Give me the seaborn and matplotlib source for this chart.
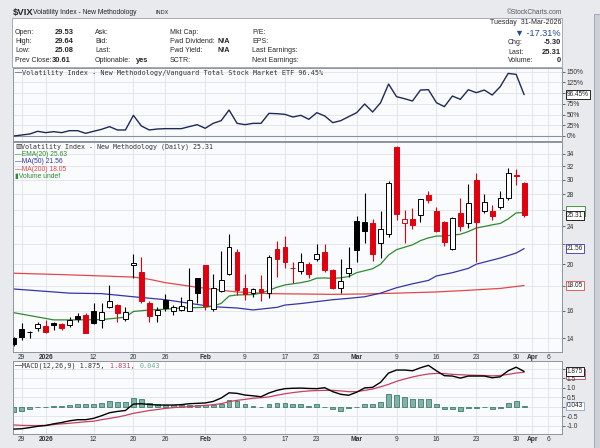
import matplotlib
matplotlib.use("Agg")
import matplotlib.pyplot as plt
import matplotlib.transforms as mtransforms
from matplotlib.patches import Rectangle
from matplotlib.ticker import FixedLocator, NullLocator
import seaborn as sns

# --- Dados (índice = pregão, 0 = 26-Dez-2025) ---
dias = list(range(65))

abertura = [14.0, 14.62, 14.45, 14.69, 14.83, 15.1, 14.98, 14.9, 15.6, 15.65,
            16.0, 15.28, 16.3, 16.45, 15.4, 19.9, 19.26, 16.6, 15.65, 16.83,
            16.0, 16.05, 16.0, 18.7, 19.9, 16.1, 17.6, 19.1, 21.25, 17.83,
            17.43, 17.75, 17.4, 21.48, 21.74, 19.65, 19.33, 20.0, 20.48, 21.25,
            19.42, 17.86, 19.15, 24.63, 24.54, 24.33, 22.1, 23.1, 35.1, 24.33,
            24.8, 25.3, 27.9, 25.87, 24.54, 21.5, 25.57, 24.4, 30.0, 25.8,
            25.8, 26.37, 27.5, 30.7, 29.53]
maxima = [14.1, 15.05, 14.52, 15.17, 15.28, 15.17, 15.1, 15.48, 15.8, 15.8,
          16.62, 16.56, 18.08, 16.55, 16.25, 20.96, 20.75, 16.72, 16.25, 17.33,
          16.43, 17.1, 19.67, 18.76, 19.95, 19.1, 21.3, 23.1, 21.5, 19.1,
          17.86, 18.95, 20.9, 22.4, 22.9, 20.2, 21.1, 20.2, 22.0, 22.0,
          19.5, 20.5, 21.7, 25.2, 28.14, 24.86, 25.8, 29.86, 35.3, 25.95,
          26.2, 27.4, 28.45, 26.37, 24.6, 25.1, 27.5, 29.4, 31.07, 28.0,
          26.6, 28.45, 31.74, 31.6, 29.64]
minima = [13.5, 13.86, 14.0, 14.52, 14.39, 14.58, 14.58, 14.8, 15.17, 14.35,
          15.0, 14.69, 16.2, 15.17, 15.24, 18.68, 16.56, 15.17, 15.17, 15.95,
          15.65, 16.0, 15.95, 16.56, 16.05, 16.0, 17.5, 18.95, 17.25, 16.86,
          17.06, 16.75, 17.0, 18.8, 19.67, 18.3, 19.1, 18.68, 20.3, 19.3,
          17.75, 17.4, 18.8, 20.2, 22.1, 20.35, 20.57, 22.85, 24.75, 22.1,
          23.65, 24.54, 26.85, 23.3, 21.8, 21.45, 23.5, 23.8, 20.2, 25.57,
          24.75, 26.1, 27.2, 29.3, 25.08]
fechamento = [13.6, 14.11, 14.4, 14.98, 14.45, 14.9, 14.69, 15.28, 15.35, 14.39,
              15.1, 15.9, 16.75, 15.8, 15.86, 20.1, 16.75, 15.58, 16.05, 16.2,
              16.3, 16.32, 16.8, 17.4, 16.35, 17.86, 18.5, 21.74, 17.64, 17.3,
              17.75, 17.5, 20.75, 20.5, 20.2, 19.6, 20.2, 19.1, 20.98, 19.42,
              17.8, 18.44, 19.67, 21.37, 23.5, 21.0, 23.7, 29.53, 25.45, 24.8,
              24.2, 27.4, 27.2, 23.5, 22.3, 25.0, 24.0, 26.85, 24.54, 26.95,
              25.2, 27.45, 31.07, 30.61, 25.31]

# médias móveis (pontos lidos: índice, valor)
ema20_idx = [0, 5, 8, 11, 14, 15, 17, 19, 21, 24, 25, 26, 27, 28, 30, 31, 32, 33, 34, 36,
             37, 38, 39, 40, 41, 42, 43, 44, 45, 46, 47, 48, 49, 50, 51, 52, 53, 54, 55,
             56, 57, 58, 59, 60, 61, 62, 63, 64]
ema20_val = [15.84, 15.3, 15.3, 15.32, 15.5, 15.93, 16.05, 16.1, 16.2, 16.25, 16.35, 16.56,
             17.16, 17.25, 17.28, 17.4, 17.64, 17.9, 18.1, 18.3, 18.44, 18.7, 18.72, 18.68,
             18.73, 18.85, 19.2, 19.38, 19.57, 20.0, 20.9, 21.45, 21.7, 21.95, 22.4, 22.7,
             22.9, 22.9, 23.0, 23.1, 23.4, 23.8, 23.98, 24.17, 24.33, 24.86, 25.6, 25.63]
ma50_idx = [0, 3, 7, 11, 15, 19, 23, 25, 28, 30, 33, 34, 36, 40, 42, 44, 46, 48, 50, 52,
            53, 55, 57, 58, 59, 61, 63, 64]
ma50_val = [17.75, 17.6, 17.4, 17.36, 17.1, 16.86, 16.48, 16.3, 16.2, 16.05, 16.25, 16.43,
            16.55, 16.86, 16.97, 17.1, 17.4, 17.86, 18.2, 18.5, 18.9, 19.2, 19.6, 20.0,
            20.2, 20.6, 21.1, 21.56]
ma200_idx = [0, 7, 15, 17, 19, 21, 23, 26, 28, 32, 36, 40, 44, 48, 53, 57, 61, 64]
ma200_val = [19.15, 19.0, 18.8, 18.6, 18.3, 18.1, 17.9, 17.65, 17.5, 17.36, 17.33, 17.3,
             17.33, 17.4, 17.5, 17.64, 17.8, 18.05]

# relação VIX / VTI (%)
relacao = [0, 2.3, 4.7, 10.9, 7.8, 10.1, 7.8, 12.4, 12.4, 6.2,
           10.9, 15.5, 21.8, 14, 14, 48.2, 23.3, 14, 16.3, 17.1,
           17.1, 17.1, 21.8, 26.4, 17.9, 29.5, 35.7, 60.6, 29.5, 26.4,
           29.5, 29.5, 52.8, 52, 50.5, 44.3, 48.2, 38.9, 54.4, 46.6,
           31.1, 35.7, 45.1, 54.4, 74.6, 55.9, 77.7, 121.2, 91.7, 87,
           81.6, 107.2, 108, 77.7, 68.4, 93.2, 85.5, 108, 101, 107.2,
           95.6, 115, 146, 143.7, 96.45]

# MACD(12,26,9)
macd_linha = [-1.19, -1.17, -1.11, -1.04, -1.0, -0.91, -0.84, -0.75, -0.69, -0.69,
              -0.62, -0.48, -0.32, -0.25, -0.2, 0.14, 0.16, 0.12, 0.09, 0.09,
              0.09, 0.11, 0.16, 0.18, 0.2, 0.28, 0.46, 0.74, 0.71, 0.62,
              0.58, 0.53, 0.73, 0.87, 0.96, 0.98, 0.99, 0.97, 0.96, 1.01,
              0.8, 0.66, 0.61, 0.77, 1.0, 1.03, 1.3, 1.79, 1.95, 1.95,
              1.91, 2.07, 2.2, 1.91, 1.65, 1.63, 1.52, 1.63, 1.63, 1.63,
              1.54, 1.59, 1.91, 2.1, 1.875]
macd_sinal = [-0.97, -0.99, -1.0, -1.0, -0.99, -0.95, -0.91, -0.88, -0.84, -0.8,
              -0.77, -0.69, -0.62, -0.55, -0.46, -0.35, -0.28, -0.2, -0.15, -0.09,
              -0.05, -0.02, 0.0, 0.04, 0.07, 0.11, 0.16, 0.27, 0.34, 0.39,
              0.45, 0.48, 0.52, 0.61, 0.69, 0.75, 0.8, 0.84, 0.86, 0.87,
              0.87, 0.84, 0.8, 0.8, 0.87, 0.94, 1.06, 1.19, 1.35, 1.47,
              1.58, 1.67, 1.74, 1.77, 1.76, 1.72, 1.7, 1.68, 1.67, 1.66,
              1.64, 1.66, 1.72, 1.79, 1.831]
macd_hist = [-0.27, -0.21, -0.12, -0.03, 0.01, 0.02, 0.05, 0.1, 0.13, 0.13,
             0.15, 0.2, 0.28, 0.25, 0.25, 0.46, 0.39, 0.22, 0.15, 0.1,
             0.08, 0.08, 0.08, 0.1, 0.08, 0.1, 0.16, 0.37, 0.28, 0.12,
             0.02, 0.01, 0.12, 0.2, 0.2, 0.14, 0.13, 0.05, 0.13, 0.01,
             -0.12, -0.23, -0.09, 0.01, 0.13, 0.13, 0.27, 0.66, 0.64, 0.52,
             0.41, 0.41, 0.41, 0.14, -0.12, -0.12, -0.23, -0.09, -0.05, -0.02,
             -0.1, -0.05, 0.18, 0.3, 0.043]

# eixo de datas
datas_idx = [1, 4, 10, 15, 19, 24, 29, 34, 38, 43, 48, 53, 58, 63, 65, 67]
datas_txt = ["29", "2026", "12", "20", "26", "Feb", "9", "17", "23", "Mar",
             "9", "16", "23", "30", "Apr", "6"]
datas_negrito = ["2026", "Feb", "Mar", "Apr"]

preco_ticks = [14, 16, 18, 20, 22, 24, 26, 28, 30, 32, 34]
preco_txt = ["14", "16", "", "20", "", "24", "", "28", "30", "32", "34"]
rel_ticks = [0, 25, 50, 75, 100, 125, 150]
rel_txt = ["0%", "25%", "50%", "75%", "", "125%", "150%"]
macd_ticks = [-1.0, -0.5, 0.0, 0.5, 1.0, 1.5, 2.0]
macd_txt = ["-1.0", "-0.5", "", "0.5", "1.0", "1.5", ""]

# --- Cores ---
VERMELHO = "#e0000f"
VERDE = "#2e8b2e"
AZUL = "#3535a8"
VERM_MA = "#e24848"
SINAL = "#c8405e"
NAVY = "#1e2a56"
FUNDO = "#e8eaee"
PAINEL = "#fafbfd"
GRADE = "#e0e3e9"
BORDA = "#8d94a1"

sns.set_theme(style="white")
plt.rcParams["font.family"] = ["Liberation Sans", "DejaVu Sans"]
MONO = ["DejaVu Sans Mono"]

fig = plt.figure(figsize=(6, 4.48), dpi=100, facecolor=FUNDO)


def texto(x, y, s, **kw):
    kw.setdefault("va", "center")
    fig.text(x / 600, 1 - y / 448, s, **kw)


# caixa de informações
fig.patches.append(Rectangle((12 / 600, 1 - 67 / 448), 550 / 600, 49 / 448,
                             transform=fig.transFigure, facecolor="white",
                             edgecolor="#9aa0ab", lw=0.6))
fig.patches.append(Rectangle((594 / 600, 0), 6 / 600, 1 - 14 / 448,
                             transform=fig.transFigure, facecolor="#cdd0d7",
                             edgecolor="#9aa0ab", lw=0.6))

texto(13, 12, "$VIX", fontsize=6.8, fontweight="bold")
texto(33, 12.5, "Volatility Index - New Methodology", fontsize=4.9, color="#222")
texto(155, 13, "INDX", fontsize=4.0, color="#222")
texto(562, 12.5, "©StockCharts.com", fontsize=4.8, color="#555", ha="right")

linhas_y = [32, 41.5, 50.5, 60]
for y, rot, val in zip(linhas_y, ["Open:", "High:", "Low:", "Prev Close:"],
                       ["29.53", "29.64", "25.08", "30.61"]):
    texto(15, y, rot, fontsize=5.0)
    texto(52 if rot == "Prev Close:" else 55, y, val, fontsize=5.4, fontweight="bold")
for y, rot in zip(linhas_y, ["Ask:", "Bid:", "Last:", "Optionable:"]):
    texto(95, y, rot, fontsize=5.0)
texto(136, 60.5, "yes", fontsize=5.4, fontweight="bold")
for y, rot in zip(linhas_y, ["Mkt Cap:", "Fwd Dividend:", "Fwd Yield:", "SCTR:"]):
    texto(170, y, rot, fontsize=5.0)
texto(218, 41.5, "N/A", fontsize=5.2, fontweight="bold")
texto(218, 50.5, "N/A", fontsize=5.2, fontweight="bold")
for y, rot in zip(linhas_y, ["P/E:", "EPS:", "Last Earnings:", "Next Earnings:"]):
    texto(252, y, rot, fontsize=5.0)

texto(561, 22, "Tuesday  31-Mar-2026", fontsize=5.0, ha="right")
texto(561, 33, "▼ -17.31%", fontsize=6.6, ha="right", color="#1f4b96")
for y, rot, val in zip([43, 52, 60.5], ["Chg:", "Last:", "Volume:"], ["-5.30", "25.31", "0"]):
    texto(508, y, rot, fontsize=5.0)
    texto(561, y, val, fontsize=5.4, ha="right", fontweight="bold")

# --- Painéis ---
esq, larg = 13 / 600, 549 / 600
ax_rel = fig.add_axes([esq, 1 - 141 / 448, larg, 73 / 448])
ax_prc = fig.add_axes([esq, 1 - 352 / 448, larg, 210 / 448])
ax_macd = fig.add_axes([esq, 1 - 434 / 448, larg, 73 / 448])

for ax in (ax_rel, ax_prc, ax_macd):
    ax.set_facecolor(PAINEL)
    ax.set_xlim(-0.1, 68.75)
    ax.xaxis.set_major_locator(FixedLocator(datas_idx))
    ax.grid(True, color=GRADE, lw=0.6)
    ax.set_axisbelow(True)
    ax.yaxis.tick_right()
    ax.tick_params(axis="y", length=2, pad=1.5, labelsize=4.8, colors="#333", width=0.5)
    ax.tick_params(axis="x", length=0, pad=1.2, labelsize=4.8, colors="#333")
    for s in ax.spines.values():
        s.set_color(BORDA)
        s.set_linewidth(0.7)


def etiqueta(ax, y, s, cor, z=10):
    trans = mtransforms.blended_transform_factory(ax.transAxes, ax.transData)
    ax.text(1.009, y, s, transform=trans, fontsize=4.7, va="center", ha="left",
            bbox=dict(boxstyle="square,pad=0.12", fc="white", ec=cor, lw=0.6),
            clip_on=False, zorder=z)


def moldura(ax, y, cor, acima=True):
    # etiqueta escondida atrás de outra: só a borda aparece
    yd = ax.transData.transform((0, y))[1]
    base = yd - 3 if acima else yd - 7
    fig.patches.append(Rectangle((565.5 / 600, base / 448), 19.5 / 600, 10 / 448,
                                 transform=fig.transFigure, facecolor="white",
                                 edgecolor=cor, lw=0.6, zorder=-1))


def rotular_datas(ax, mostrar):
    if not mostrar:
        ax.set_xticklabels([])
        return
    ax.set_xticklabels(datas_txt)
    for t in ax.get_xticklabels():
        if t.get_text() in datas_negrito:
            t.set_fontweight("bold")


# 1. Relação VIX/VTI
sns.lineplot(x=dias, y=relacao, ax=ax_rel, color=NAVY, lw=1.0)
ax_rel.axhline(0, color="#8a909c", lw=0.8, zorder=1)
ax_rel.set_ylim(-11.7, 158.6)
ax_rel.set_yticks(rel_ticks)
ax_rel.set_yticklabels(rel_txt)
ax_rel.set_xlabel("")
ax_rel.set_ylabel("")
rotular_datas(ax_rel, False)
etiqueta(ax_rel, relacao[-1], "96.45%", "black")
texto(15, 73, "—", fontsize=5, color=NAVY)
texto(22, 73, "Volatility Index - New Methodology/Vanguard Total Stock Market ETF 96.45%",
      fontsize=4.9, family=MONO, color="#333")

# 2. Candles
for i in dias:
    o, h, l, c = abertura[i], maxima[i], minima[i], fechamento[i]
    anterior = fechamento[i - 1] if i > 0 else c
    cor = VERMELHO if c < anterior else "black"
    cheio = c < o
    ax_prc.vlines(i, l, h, color=cor, lw=0.8, zorder=3)
    altura = max(abs(c - o), 0.02)
    ax_prc.bar(i, altura, bottom=min(o, c), width=0.6,
               facecolor=cor if cheio else "white", edgecolor=cor, lw=0.7, zorder=4)

sns.lineplot(x=ma200_idx, y=ma200_val, ax=ax_prc, color=VERM_MA, lw=0.9, zorder=2)
sns.lineplot(x=ma50_idx, y=ma50_val, ax=ax_prc, color=AZUL, lw=0.9, zorder=2)
sns.lineplot(x=ema20_idx, y=ema20_val, ax=ax_prc, color=VERDE, lw=0.9, zorder=2)
ax_prc.set_yscale("log")
ax_prc.set_ylim(13.11, 36.0)
ax_prc.yaxis.set_major_locator(FixedLocator(preco_ticks))
ax_prc.yaxis.set_minor_locator(NullLocator())
ax_prc.set_yticklabels(preco_txt)
ax_prc.set_xlabel("")
ax_prc.set_ylabel("")
rotular_datas(ax_prc, True)
etiqueta(ax_prc, 18.05, "18.05", VERM_MA)
etiqueta(ax_prc, 21.56, "21.56", AZUL)
moldura(ax_prc, 25.63, VERDE, acima=True)
etiqueta(ax_prc, 25.31, "25.31", "black", z=11)

texto(15, 146.5, "▥", fontsize=4.6, color="#333")
texto(21, 146.5, "Volatility Index - New Methodology (Daily) 25.31",
      fontsize=4.8, family=MONO, color="#333")
for y, s, cor in [(154, "—EMA(20) 25.63", VERDE), (161.7, "—MA(50) 21.56", AZUL),
                  (169.3, "—MA(200) 18.05", VERM_MA), (176.5, "▮Volume undef", VERDE)]:
    texto(15, y, s, fontsize=4.9, color=cor)

# 3. MACD
ax_macd.bar(dias, macd_hist, width=0.6, color="#7fb4a4", edgecolor="#3f7c6c", lw=0.6, zorder=2)
sns.lineplot(x=dias, y=macd_sinal, ax=ax_macd, color=SINAL, lw=0.9, zorder=3)
sns.lineplot(x=dias, y=macd_linha, ax=ax_macd, color="black", lw=1.0, zorder=4)
ax_macd.set_ylim(-1.45, 2.43)
ax_macd.set_yticks(macd_ticks)
ax_macd.set_yticklabels(macd_txt)
ax_macd.set_xlabel("")
ax_macd.set_ylabel("")
rotular_datas(ax_macd, True)
etiqueta(ax_macd, 0.043, "0.043", "#8fa3d8")
moldura(ax_macd, 1.831, SINAL, acima=False)
etiqueta(ax_macd, 1.875, "1.875", "black", z=11)
texto(15, 365.5, "—", fontsize=5, color="black")
fig.text(22 / 600, 1 - 365.5 / 448, "MACD(12,26,9) 1.875, ", fontsize=4.9, family=MONO,
         color="#333", va="center")
fig.text(22 / 600 + 21 * 4.2 / 600, 1 - 365.5 / 448, "1.831, ", fontsize=4.9, family=MONO,
         color=SINAL, va="center")
fig.text(22 / 600 + 28 * 4.2 / 600, 1 - 365.5 / 448, "0.043", fontsize=4.9, family=MONO,
         color="#6fa898", va="center")

fig.savefig("out.png", dpi=100, facecolor=FUNDO)
plt.close(fig)
